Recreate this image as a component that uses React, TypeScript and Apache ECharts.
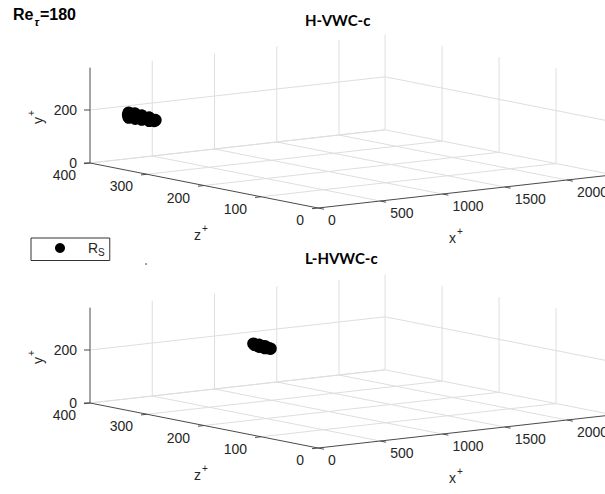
import React, { useEffect, useRef } from 'react';
import * as echarts from 'echarts';

// ---------- data ----------
const panelTitles = ['H-VWC-c', 'L-HVWC-c'];
const xTicks = [0, 500, 1000, 1500, 2000];
const yTicks = [0, 200];
const zTicks = [0, 100, 200, 300, 400];
const xMax = 2370;
const yMax = 360;
const zMax = 400;

// R_S points, [x+, y+, z+]
const rsHVWC = [
  [100, 204, 354], [100, 195, 355], [100, 186, 354], [98, 206, 343], [99, 196, 343], [102, 186, 343],
  [100, 203, 331], [100, 196, 330], [100, 188, 331], [100, 201, 318], [101, 195, 318], [100, 189, 318],
  [100, 196, 307], [100, 192, 309],
];
const rsLHVWC = [
  [800, 229, 288], [800, 226, 286], [800, 229, 278], [800, 225, 283], [800, 222, 278], [800, 228, 268],
  [800, 225, 273], [800, 221, 268], [800, 224, 262], [800, 223, 258],
];

// ---------- layout / projection ----------
const W = 605;
const H = 494;
const ORIGIN_X = 318;
const ORIGIN_Y = 208;
const PANEL_DY = 240;
const EX = [0.1245, -0.014];
const EY = [0, -0.265];
const EZ = [-0.57, -0.1125];

function project(p: number, x: number, y: number, z: number): [number, number] {
  return [
    ORIGIN_X + x * EX[0] + y * EY[0] + z * EZ[0],
    ORIGIN_Y + p * PANEL_DY + x * EX[1] + y * EY[1] + z * EZ[1],
  ];
}

const FONT = '"Liberation Sans", Arial, Helvetica, sans-serif';
const TXT = '#262626';
const GRID = '#dedede';
const AXIS = '#4a4a4a';

function seg(a: number[], b: number[], stroke: string, z = 1): any {
  return {
    type: 'line',
    silent: true,
    z,
    shape: { x1: a[0], y1: a[1], x2: b[0], y2: b[1] },
    style: { stroke, lineWidth: 1 },
  };
}

function label(x: number, y: number, t: string, align: string, extra: any = {}): any {
  return {
    type: 'text',
    silent: true,
    z: 5,
    x,
    y,
    style: { text: t, fill: TXT, fontSize: 14, fontFamily: FONT, align, verticalAlign: 'middle', ...extra },
  };
}

const supRich = {
  b: { fontSize: 14, fontFamily: FONT, fill: TXT },
  sup: { fontSize: 10, fontFamily: FONT, fill: TXT, padding: [0, 0, 14, 1] },
};

function panelGraphics(p: number): any[] {
  const P = (x: number, y: number, z: number) => project(p, x, y, z);
  const els: any[] = [];
  // floor grid
  zTicks.forEach((z) => { if (z > 0) els.push(seg(P(0, 0, z), P(xMax, 0, z), GRID)); });
  xTicks.forEach((x) => { if (x > 0) els.push(seg(P(x, 0, 0), P(x, 0, zMax), GRID)); });
  // back wall z = zMax
  xTicks.forEach((x) => { if (x > 0) els.push(seg(P(x, 0, zMax), P(x, yMax, zMax), GRID)); });
  yTicks.forEach((y) => els.push(seg(P(0, y, zMax), P(xMax, y, zMax), GRID)));
  // side wall x = xMax
  zTicks.forEach((z) => els.push(seg(P(xMax, 0, z), P(xMax, yMax, z), GRID)));
  yTicks.forEach((y) => els.push(seg(P(xMax, y, 0), P(xMax, y, zMax), GRID)));
  // axes
  els.push(seg(P(0, 0, zMax), P(0, yMax, zMax), AXIS, 3));
  els.push(seg(P(0, 0, zMax), P(0, 0, 0), AXIS, 3));
  els.push(seg(P(0, 0, 0), P(xMax, 0, 0), AXIS, 3));
  // y ticks + labels
  yTicks.forEach((y) => {
    const a = P(0, y, zMax);
    els.push(seg(a, [a[0] - 6, a[1]], AXIS, 3));
    els.push(label(a[0] - 13, a[1], String(y), 'right'));
  });
  // z ticks + labels
  zTicks.forEach((z) => {
    const a = P(0, 0, z);
    els.push(seg(a, [a[0] - 6, a[1] + 0.7], AXIS, 3));
    els.push(label(a[0] - 14, a[1] + 12, String(z), 'right'));
  });
  // x ticks + labels
  xTicks.forEach((x) => {
    const a = P(x, 0, 0);
    els.push(seg(a, [a[0] + 5.9, a[1] + 1.2], AXIS, 3));
    els.push(label(a[0] + 10, a[1] + 12, String(x), 'left'));
  });
  // axis titles
  const dy = p * PANEL_DY;
  els.push(label(201, 235 + dy, '{b|z}{sup|+}', 'center', { rich: supRich }));
  els.push(label(456, 238 + dy, '{b|x}{sup|+}', 'center', { rich: supRich }));
  els.push(label(38, 117 + dy, '{b|y}{sup|+}', 'center', { rich: supRich }));
  els[els.length - 1].rotation = Math.PI / 2;
  // panel title
  els.push({
    type: 'text',
    silent: true,
    z: 5,
    x: 305,
    y: p === 0 ? 20 : 258,
    style: {
      text: panelTitles[p],
      fill: '#000',
      fontSize: 15,
      fontWeight: 'bold',
      fontFamily: 'Lato, "Open Sans", sans-serif',
      align: 'left',
      verticalAlign: 'middle',
    },
  });
  return els;
}

function buildOption(): any {
  const graphics: any[] = [...panelGraphics(0), ...panelGraphics(1)];
  graphics.push({
    type: 'text',
    silent: true,
    z: 5,
    x: 13,
    y: 14,
    style: {
      text: '{b|Re}{sub|τ}{b|=180}',
      align: 'left',
      verticalAlign: 'middle',
      rich: {
        b: { fontSize: 16, fontWeight: 'bold', fontFamily: FONT, fill: '#000' },
        sub: { fontSize: 11, fontStyle: 'italic', fontWeight: 'bold', fontFamily: FONT, fill: '#000', padding: [16, 1, 0, 1] },
      },
    },
  });
  graphics.push({ type: 'circle', silent: true, shape: { cx: 146, cy: 264, r: 0.8 }, style: { fill: '#666' } });

  const toScreen = (p: number, pts: number[][]) => pts.map(([x, y, z]) => project(p, x, y, z));
  const markStyle = { color: '#000', opacity: 1, borderWidth: 0 };

  return {
    animation: false,
    backgroundColor: '#fff',
    grid: { left: 0, right: 0, top: 0, bottom: 0, containLabel: false },
    xAxis: { type: 'value', min: 0, max: W, show: false },
    yAxis: { type: 'value', min: 0, max: H, inverse: true, show: false },
    legend: {
      data: ['Rs'],
      left: 31,
      top: 238,
      orient: 'vertical',
      padding: [3, 5, 3, 24],
      borderColor: '#333',
      borderWidth: 1,
      backgroundColor: '#fff',
      icon: 'circle',
      itemWidth: 10,
      itemHeight: 10,
      selectedMode: false,
      itemStyle: { color: '#000', opacity: 1 },
      formatter: () => '{r|R}{s|S}',
      textStyle: {
        rich: {
          r: { fontSize: 14, fontFamily: FONT, color: TXT, padding: [0, 0, 0, 18] },
          s: { fontSize: 10, fontFamily: FONT, color: TXT, padding: [9, 0, 0, 0] },
        },
      },
    },
    series: [
      {
        name: 'Rs',
        type: 'scatter',
        symbol: 'circle',
        symbolSize: 12.5,
        itemStyle: markStyle,
        z: 4,
        data: toScreen(0, rsHVWC),
      },
      {
        name: 'Rs',
        type: 'scatter',
        symbol: 'circle',
        symbolSize: 12.5,
        itemStyle: markStyle,
        z: 4,
        data: toScreen(1, rsLHVWC),
      },
    ],
    graphic: graphics,
  };
}

export default function App() {
  const ref = useRef<HTMLDivElement>(null);
  useEffect(() => {
    document.body.style.margin = '0';
    const chart = echarts.init(ref.current as HTMLDivElement, null, { renderer: 'svg' });
    chart.setOption(buildOption());
    return () => chart.dispose();
  }, []);
  return (
    <div
      ref={ref}
      style={{ position: 'absolute', left: 0, top: 0, width: W, height: H, background: '#fff' }}
    />
  );
}
